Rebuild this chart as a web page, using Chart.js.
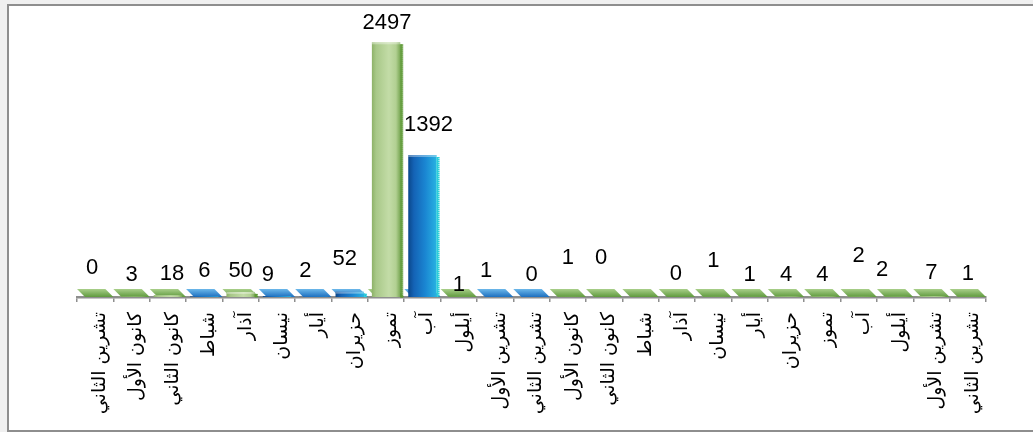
<!DOCTYPE html>
<html>
<head>
<meta charset="utf-8">
<script src="https://cdn.jsdelivr.net/npm/chart.js@4.4.0/dist/chart.umd.min.js"></script>
<style>
  html, body { margin: 0; padding: 0; width: 1033px; height: 432px; overflow: hidden; background: #f0f0f0; }
  body { position: relative; }
  #frame { position: absolute; left: 7px; top: 4px; width: 1100px; height: 428px; box-sizing: border-box;
           background: #ffffff; border: 2px solid #8e8e8e; }
  #wrap { position: absolute; left: 0; top: 0; width: 1033px; height: 432px; }
</style>
</head>
<body>
<div id="frame"></div>
<div id="wrap"><canvas id="chart" width="1033" height="432"></canvas></div>
<script>
// Monthly counts, two seasons running from تشرين الثاني to تشرين الثاني
const months = [
  'تشرين الثاني', 'كانون الأول', 'كانون الثاني', 'شباط', 'آذار', 'نيسان', 'أيار', 'حزيران',
  'تموز', 'آب', 'أيلول', 'تشرين الأول', 'تشرين الثاني', 'كانون الأول', 'كانون الثاني', 'شباط',
  'آذار', 'نيسان', 'أيار', 'حزيران', 'تموز', 'آب', 'أيلول', 'تشرين الأول', 'تشرين الثاني'
];
const counts = [0, 3, 18, 6, 50, 9, 2, 52, 2497, 1392, 1, 1, 0, 1, 0, null, 0, 1, 1, 4, 4, 2, 2, 7, 1];

// colour family of each column: 'g' green, 'b' blue
const tones = ['g','g','g','b','g','b','b','b','g','b','g','b','b','g','g','g','g','g','g','g','g','g','g','g','g'];

// small hand offsets [dx, dy] for the value labels, in pixels
const labelNudge = [
  [-3,-5],[0,2],[4,3],[0,-1],[0,3],[-9,3],[-8,-2],[-5,-9],[1,5],[6,-6],[0,12],[-9,-2],[0,2],
  [0,-15],[-3,-15],[0,0],[-1,1],[0,-12],[0,2],[0,2],[0,2],[0,-17],[-13,-3],[0,1],[0,1]
];

const BAR_PCT = 0.78;

const palette = {
  g: { face: [[0,'#8db268'],[0.15,'#a8c888'],[0.6,'#c3dca7'],[0.85,'#b2d092'],[1,'#7aa855']],
       edge: '#5e9a36', slabTop: '#a9cf8a', slabBottom: '#5f9a3e' },
  b: { face: [[0,'#0a478a'],[0.2,'#1463b6'],[0.6,'#1a86d2'],[1,'#28b2e2']],
       edge: '#2ccfda', slabTop: '#6cb8ea', slabBottom: '#1d6fbf' }
};

function barWidth(xs) {
  return (xs.width / months.length) * BAR_PCT;
}

function faceFill(ctx) {
  const chart = ctx.chart;
  const xs = chart.scales.x;
  if (!xs || !chart.chartArea) return '#9cc27a';
  const cx = xs.getPixelForValue(ctx.dataIndex);
  const w = barWidth(xs);
  const g = chart.ctx.createLinearGradient(cx - w / 2, 0, cx + w / 2, 0);
  palette[tones[ctx.dataIndex]].face.forEach(([p, c]) => g.addColorStop(p, c));
  return g;
}

// floor slabs under every column, drawn before the bars
const floorSlabs = {
  id: 'floorSlabs',
  beforeDatasetsDraw(chart) {
    const { ctx, scales: { x, y } } = chart;
    const base = y.getPixelForValue(0);
    const w = barWidth(x);
    const h = 8, skew = 4;
    ctx.save();
    months.forEach((m, i) => {
      const cx = x.getPixelForValue(i);
      const p = palette[tones[i]];
      const g = ctx.createLinearGradient(0, base - h, 0, base);
      g.addColorStop(0, p.slabTop);
      g.addColorStop(1, p.slabBottom);
      ctx.fillStyle = g;
      ctx.beginPath();
      ctx.moveTo(cx - w / 2 - skew, base - h);
      ctx.lineTo(cx + w / 2 - skew, base - h);
      ctx.lineTo(cx + w / 2 + skew, base);
      ctx.lineTo(cx - w / 2 + skew, base);
      ctx.closePath();
      ctx.fill();
    });
    ctx.restore();
  }
};

// side edge of the columns and the value labels
const columnDetails = {
  id: 'columnDetails',
  afterDatasetsDraw(chart) {
    const { ctx, scales: { x, y } } = chart;
    const meta = chart.getDatasetMeta(0);
    ctx.save();
    meta.data.forEach((bar, i) => {
      if (counts[i] === null) return;
      const p = palette[tones[i]];
      const right = bar.x + bar.width / 2;
      const top = bar.y, bottom = bar.base;
      if (bottom - top > 3) {
        // serrated side edge
        for (let yy = top + 2; yy < bottom; yy += 2) {
          ctx.fillStyle = p.edge;
          ctx.fillRect(right, yy, ((yy / 2) % 2) ? 3 : 2, 1.5);
        }
        ctx.fillStyle = p.edge;
        ctx.fillRect(right, top + 2, 1.5, bottom - top - 2);
        // top cap
        ctx.fillStyle = 'rgba(255,255,255,0.35)';
        ctx.fillRect(bar.x - bar.width / 2, top, bar.width, 2);
      }
    });
    ctx.font = '22px "Liberation Sans", Arial, sans-serif';
    ctx.fillStyle = '#000';
    ctx.textAlign = 'center';
    ctx.textBaseline = 'middle';
    counts.forEach((v, i) => {
      if (v === null) return;
      const [dx, dy] = labelNudge[i];
      ctx.fillText(String(v), x.getPixelForValue(i) + dx, y.getPixelForValue(v) - 24 + dy);
    });
    ctx.restore();
  }
};

new Chart(document.getElementById('chart'), {
  type: 'bar',
  data: {
    labels: months,
    datasets: [{
      data: counts,
      backgroundColor: faceFill,
      borderWidth: 0,
      barPercentage: BAR_PCT,
      categoryPercentage: 1
    }]
  },
  options: {
    responsive: false,
    animation: false,
    events: [],
    layout: { padding: { left: 77, right: 47, top: 42, bottom: 0 } },
    plugins: { legend: { display: false }, tooltip: { enabled: false } },
    scales: {
      x: {
        offset: true,
        grid: { display: true, offset: true, drawOnChartArea: false, drawTicks: true,
                tickLength: 5, color: '#8e8e8e', lineWidth: 1.5 },
        border: { display: true, color: '#8e8e8e', width: 2.5 },
        ticks: { autoSkip: false, maxRotation: 90, minRotation: 90, padding: 10, labelOffset: 5,
                 color: '#000', font: { family: '"DejaVu Sans"', size: 19 } },
        afterFit(scale) { scale.height = 135; }
      },
      y: { display: false, min: 0, max: 2500 }
    }
  },
  plugins: [floorSlabs, columnDetails]
});
</script>
</body>
</html>
